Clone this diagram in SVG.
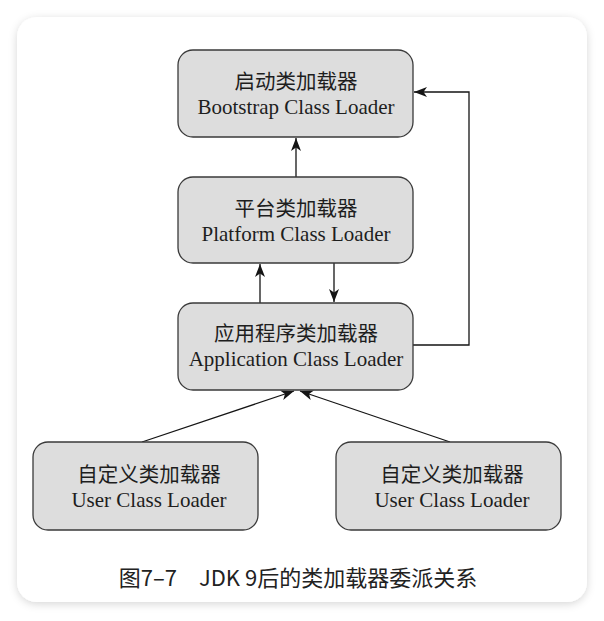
<svg xmlns="http://www.w3.org/2000/svg" width="604" height="621" viewBox="0 0 604 621">
<style>
.box{fill:#dddddd;stroke:#3a3a3a;stroke-width:1.3}
.zh{font-family:"Liberation Serif","Noto Sans CJK SC",serif;font-size:20.5px;fill:#1e1e1e;text-anchor:middle}
.en{font-family:"Liberation Serif","Noto Sans CJK SC",serif;font-size:21px;fill:#1e1e1e;text-anchor:middle}
.cap{font-family:"Noto Sans CJK SC","Noto Sans",sans-serif;font-size:22px;fill:#222;text-anchor:middle}
.conn{fill:none;stroke:#151515;stroke-width:1.3}
</style>
<defs>
<filter id="sh" x="-10%" y="-10%" width="120%" height="120%">
<feDropShadow dx="0" dy="2" stdDeviation="4" flood-color="#000" flood-opacity="0.16"/>
</filter>
<marker id="ah" markerUnits="userSpaceOnUse" markerWidth="14" markerHeight="12" refX="13" refY="5" orient="auto">
<path d="M0,0 L13,5 L0,10 L3.5,5 z" fill="#151515"/>
</marker>
</defs>
<rect x="0" y="0" width="604" height="621" fill="#ffffff"/>
<rect x="17" y="17" width="570" height="585" rx="20" fill="#ffffff" filter="url(#sh)"/>
<g id="connectors">
<line class="conn" x1="296" y1="177" x2="296" y2="138" marker-end="url(#ah)"/>
<line class="conn" x1="260" y1="303" x2="260" y2="264" marker-end="url(#ah)"/>
<line class="conn" x1="334" y1="263" x2="334" y2="302" marker-end="url(#ah)"/>
<polyline class="conn" points="413,345 469,345 469,92 414,92" marker-end="url(#ah)"/>
<line class="conn" x1="142" y1="442" x2="294" y2="391" marker-end="url(#ah)"/>
<line class="conn" x1="450" y1="442" x2="300" y2="391" marker-end="url(#ah)"/>
</g>
<g id="bootstrap">
<rect class="box" x="178" y="50" width="235" height="87" rx="15"/>
<text class="zh" x="296" y="89">启动类加载器</text>
<text class="en" x="296" y="114">Bootstrap Class Loader</text>
</g>
<g id="platform">
<rect class="box" x="178" y="177" width="235" height="86" rx="15"/>
<text class="zh" x="296" y="216">平台类加载器</text>
<text class="en" x="296" y="241">Platform Class Loader</text>
</g>
<g id="application">
<rect class="box" x="178" y="303" width="235" height="87" rx="15"/>
<text class="zh" x="296" y="341">应用程序类加载器</text>
<text class="en" x="296" y="366">Application Class Loader</text>
</g>
<g id="user1">
<rect class="box" x="33" y="442" width="225" height="88" rx="15"/>
<text class="zh" x="149" y="482">自定义类加载器</text>
<text class="en" x="149" y="507">User Class Loader</text>
</g>
<g id="user2">
<rect class="box" x="336" y="442" width="225" height="88" rx="15"/>
<text class="zh" x="452" y="482">自定义类加载器</text>
<text class="en" x="452" y="507">User Class Loader</text>
</g>
<text class="cap" x="298" y="586">图7–7　JDK 9后的类加载器委派关系</text>
</svg>
